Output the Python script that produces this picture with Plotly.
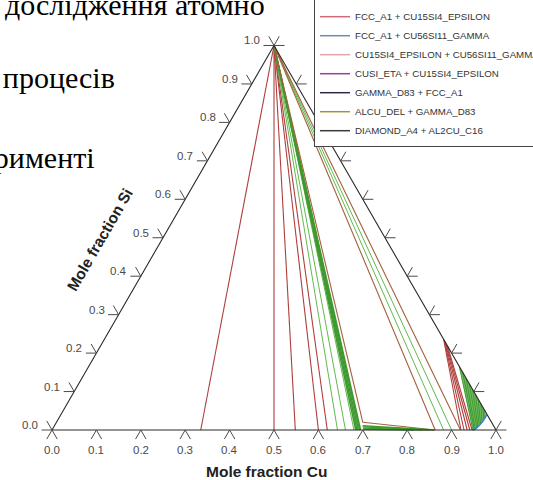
import numpy as np
import plotly.graph_objects as go

# ---------------- data (mole fractions: Cu, Si; Al = 1 - Cu - Si) ----------------
# tie-lines from the Si corner (DIAMOND_A4) to the Al-Cu side (Si = 0)
apex_red_cu = [0.335, 0.50, 0.548, 0.60, 0.62]
apex_green_cu = [0.643, 0.661, 0.680]
apex_band_cu = [0.684, 0.687, 0.690, 0.693, 0.695]
apex_right_green_cu = [0.882, 0.900]
apex_right_brown_cu = [0.863, 0.920]

# three-phase triangle corner and its edges
tri_corner_cu = [0.690]
tri_corner_si = [0.020]
tri_base_cu = [0.863]

# thin green band along the Al-Cu side
band_start_cu = [0.694, 0.696, 0.698, 0.700]
band_start_si = [0.011, 0.008, 0.005, 0.002]
band_end_cu = [0.860, 0.850, 0.835, 0.815]
band_end_si = [0.0, 0.0, 0.0, 0.0]

# red fan near the Cu-Si side
fan_start_cu = [0.764, 0.767, 0.771, 0.776, 0.782]
fan_start_si = [0.236, 0.233, 0.229, 0.224, 0.218]
fan_end_cu = [0.921, 0.928, 0.935, 0.941, 0.946]
fan_end_si = [0.0, 0.0, 0.0, 0.0, 0.0]

# green wedge (Cu-Si side to FCC_A1 boundary)
wedge_start_cu = [0.835, 0.850, 0.865, 0.880, 0.895, 0.908, 0.920, 0.932, 0.942, 0.950]
wedge_start_si = [0.165, 0.150, 0.135, 0.120, 0.105, 0.092, 0.080, 0.068, 0.058, 0.050]
wedge_end_cu = [0.948, 0.950, 0.951, 0.953, 0.954, 0.955, 0.956, 0.957, 0.958, 0.958]
wedge_end_si = [0.000, 0.002, 0.004, 0.007, 0.010, 0.014, 0.018, 0.023, 0.029, 0.035]

# FCC_A1 boundary curve
fcc_cu = [0.947, 0.951, 0.954, 0.956, 0.958, 0.959, 0.9595, 0.959]
fcc_si = [0.000, 0.002, 0.006, 0.011, 0.018, 0.026, 0.034, 0.040]

# axis ticks
tick_vals = [0.0, 0.1, 0.2, 0.3, 0.4, 0.5, 0.6, 0.7, 0.8, 0.9, 1.0]
tick_text = ["0.0", "0.1", "0.2", "0.3", "0.4", "0.5", "0.6", "0.7", "0.8", "0.9", "1.0"]

# legend entries
legend_names = [
    "FCC_A1 + CU15SI4_EPSILON",
    "FCC_A1 + CU56SI11_GAMMA",
    "CU15SI4_EPSILON + CU56SI11_GAMMA",
    "CUSI_ETA + CU15SI4_EPSILON",
    "GAMMA_D83 + FCC_A1",
    "ALCU_DEL + GAMMA_D83",
    "DIAMOND_A4 + AL2CU_C16",
]
legend_colors = ["#cf6b78", "#6d8cab", "#e3a3ad", "#9a3d9c", "#2c2c4a", "#9c9a2c", "#3a3a3a"]

# ---------------- helpers ----------------
H = np.sqrt(3) / 2


def to_xy(cu, si):
    return float(cu) + float(si) / 2.0, float(si) * H


def segs(cu0, si0, cu1, si1):
    xs, ys = [], []
    for a, b, c, d in zip(cu0, si0, cu1, si1):
        x0, y0 = to_xy(a, b)
        x1, y1 = to_xy(c, d)
        xs += [x0, x1, None]
        ys += [y0, y1, None]
    return xs, ys


def apex_segs(cu_list):
    n = len(cu_list)
    return segs([0.0] * n, [1.0] * n, cu_list, [0.0] * n)


fig = go.Figure()


def add_lines(xy, color, width=1.0):
    fig.add_trace(go.Scatter(x=xy[0], y=xy[1], mode="lines", showlegend=False,
                             hoverinfo="skip", line=dict(color=color, width=width)))


RED = "#ae3e3b"
GREEN = "#62b84e"
DGREEN = "#3f9a2f"
BROWN = "#a2613c"

add_lines(apex_segs(apex_red_cu), RED, 1.1)
add_lines(apex_segs(apex_green_cu), GREEN, 1.0)
add_lines(apex_segs(apex_band_cu), DGREEN, 1.5)
add_lines(apex_segs(apex_right_green_cu), GREEN, 1.0)
add_lines(apex_segs(apex_right_brown_cu), BROWN, 1.1)
add_lines(segs([0.0], [1.0], tri_corner_cu, tri_corner_si), BROWN, 1.1)
add_lines(segs(tri_corner_cu, tri_corner_si, tri_base_cu, [0.0]), BROWN, 1.1)
add_lines(segs(band_start_cu, band_start_si, band_end_cu, band_end_si), DGREEN, 1.4)
add_lines(segs(fan_start_cu, fan_start_si, fan_end_cu, fan_end_si), RED, 1.1)

# green wedge fill (outline from the tie-line end points) and its tie-lines
wx, wy = [], []
for c, s in zip(wedge_start_cu, wedge_start_si):
    x, y = to_xy(c, s); wx.append(x); wy.append(y)
for c, s in zip(wedge_end_cu[::-1], wedge_end_si[::-1]):
    x, y = to_xy(c, s); wx.append(x); wy.append(y)
fig.add_trace(go.Scatter(x=wx, y=wy, mode="lines", fill="toself", fillcolor="rgba(80,170,60,0.8)",
                         line=dict(width=0), showlegend=False, hoverinfo="skip"))
add_lines(segs(wedge_start_cu, wedge_start_si, wedge_end_cu, wedge_end_si), DGREEN, 1.0)

fx, fy = zip(*[to_xy(c, s) for c, s in zip(fcc_cu, fcc_si)])
fig.add_trace(go.Scatter(x=list(fx), y=list(fy), mode="lines", showlegend=False, hoverinfo="skip",
                         line=dict(color="#3a78d0", width=1.6, shape="spline")))

# triangle outline
corner_cu = [0.0, 1.0, 0.0, 0.0]
corner_si = [0.0, 0.0, 1.0, 0.0]
ox, oy = zip(*[to_xy(c, s) for c, s in zip(corner_cu, corner_si)])
fig.add_trace(go.Scatter(x=list(ox), y=list(oy), mode="lines", showlegend=False, hoverinfo="skip",
                         line=dict(color="#2a2a2a", width=1.1)))

# ticks (two strokes each, along the directions of the other two sides)
L = 10.5 / 444.0
tx, ty = [], []
for v in tick_vals:
    # bottom (Cu) axis
    x, y = to_xy(v, 0.0)
    for dx, dy in [(-0.5, -H), (0.5, -H)]:
        tx += [x, x + dx * L, None]; ty += [y, y + dy * L, None]
    # left (Si) axis
    x, y = to_xy(0.0, v)
    for dx, dy in [(-1.0, 0.0), (-0.5, H)]:
        tx += [x, x + dx * L, None]; ty += [y, y + dy * L, None]
    # right (Cu-Si) side
    x, y = to_xy(1.0 - v, v)
    for dx, dy in [(1.0, 0.0), (0.5, H)]:
        tx += [x, x + dx * L, None]; ty += [y, y + dy * L, None]
fig.add_trace(go.Scatter(x=tx, y=ty, mode="lines", showlegend=False, hoverinfo="skip",
                         line=dict(color="#4a4a4a", width=1.0)))

# legend-only traces
for name, col in zip(legend_names, legend_colors):
    fig.add_trace(go.Scatter(x=[None], y=[None], mode="lines", name=name,
                             line=dict(color=col, width=1.5)))

# tick labels
ann = []
TF = dict(family="Liberation Sans, Arial, sans-serif", size=11.5, color="#4a4a4a")
for v, t in zip(tick_vals, tick_text):
    x, y = to_xy(v, 0.0)
    ann.append(dict(x=x, y=y, xref="x", yref="y", text=t, showarrow=False, font=TF,
                    xanchor="center", yanchor="middle", yshift=-20))
    x, y = to_xy(0.0, v)
    ann.append(dict(x=x, y=y, xref="x", yref="y", text=t, showarrow=False, font=TF,
                    xanchor="right", yanchor="middle", xshift=-12, yshift=5))

TT = dict(family="Liberation Sans, Arial, sans-serif", size=15.5, color="#222222", weight="bold")
ann.append(dict(x=266 / 533, y=1 - 471 / 480, xref="paper", yref="paper", text="Mole fraction Cu",
                showarrow=False, font=TT, xanchor="center", yanchor="middle"))
ann.append(dict(x=99 / 533, y=1 - 240 / 480, xref="paper", yref="paper", text="Mole fraction Si",
                showarrow=False, font=TT, xanchor="center", yanchor="middle", textangle=-60))

# background document text
SF = dict(family="Liberation Serif, Times New Roman, serif", size=30, color="#000000")
for txt, xr, ym in [("дослідження атомно", 267, 5), ("і процесів", 117, 78), ("експерименті", 97, 158)]:
    ann.append(dict(x=xr / 533, y=1 - ym / 480, xref="paper", yref="paper", text=txt,
                    showarrow=False, font=SF, xanchor="right", yanchor="middle"))

fig.update_layout(
    width=533, height=480,
    margin=dict(l=0, r=0, t=0, b=0, autoexpand=False),
    paper_bgcolor="white", plot_bgcolor="white",
    xaxis=dict(range=[-52 / 444, 481 / 444], visible=False, fixedrange=True),
    yaxis=dict(range=[-50 / 444, 430 / 444], visible=False, fixedrange=True),
    showlegend=True,
    legend=dict(x=314 / 533, y=1 - 147 / 480, xanchor="left", yanchor="bottom",
                bgcolor="white", bordercolor="#444444", borderwidth=1,
                title=dict(text="&nbsp;", font=dict(size=14)),
                font=dict(family="Liberation Sans, Arial, sans-serif", size=9.7, color="#333333"),
                tracegroupgap=0),
    annotations=ann,
)

fig.write_html("out.html", config={"displayModeBar": False},
               post_script="document.body.style.margin='0';document.body.style.overflow='hidden';")
